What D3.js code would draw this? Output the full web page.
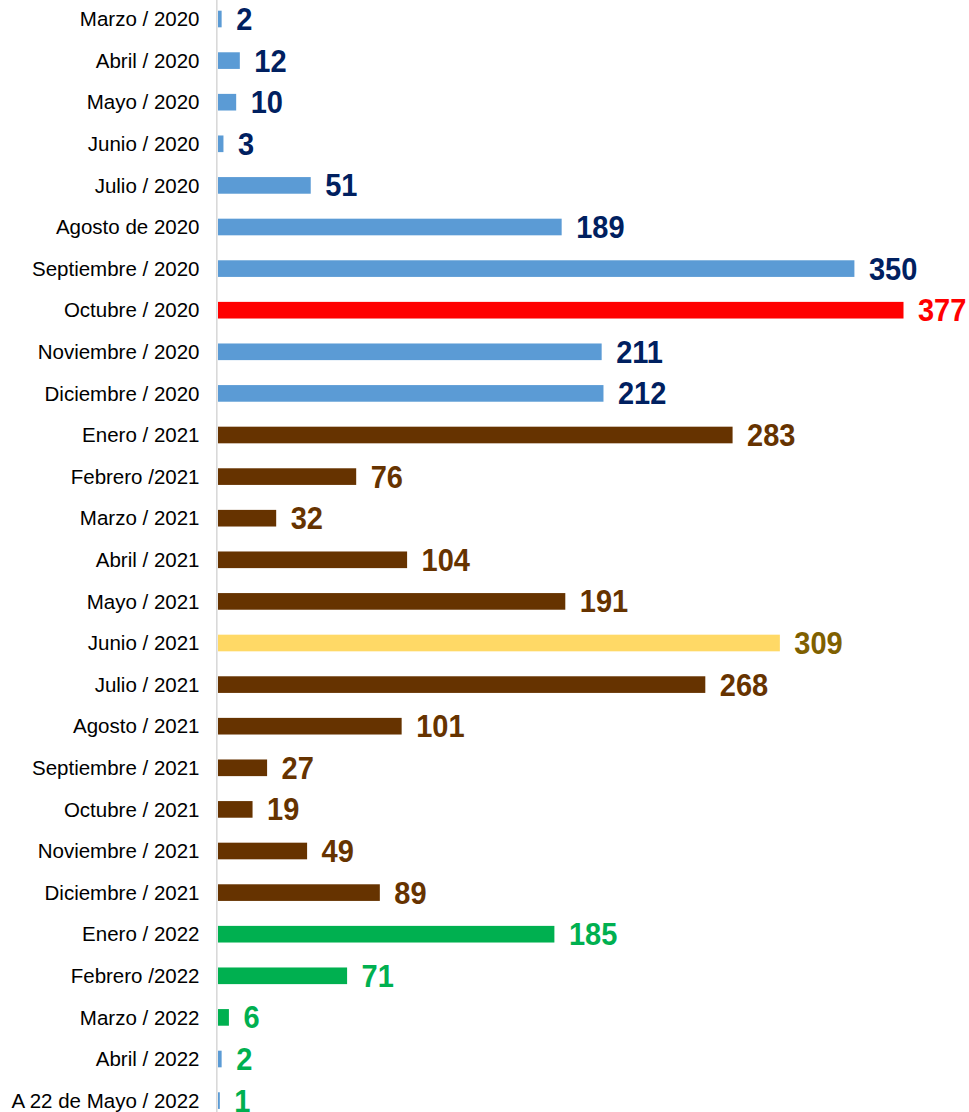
<!DOCTYPE html>
<html><head><meta charset="utf-8">
<script src="https://cdn.jsdelivr.net/npm/d3@7"></script>
<style>html,body{margin:0;padding:0;background:#fff;}</style>
</head><body>
<svg id="c" width="969" height="1112"></svg>
<script>
const categories = ["Marzo / 2020","Abril / 2020","Mayo / 2020","Junio / 2020","Julio / 2020","Agosto de 2020","Septiembre / 2020","Octubre / 2020","Noviembre / 2020","Diciembre / 2020","Enero / 2021","Febrero /2021","Marzo / 2021","Abril / 2021","Mayo / 2021","Junio / 2021","Julio / 2021","Agosto / 2021","Septiembre / 2021","Octubre / 2021","Noviembre / 2021","Diciembre / 2021","Enero / 2022","Febrero /2022","Marzo / 2022","Abril / 2022","A 22 de Mayo / 2022"];
const values = [2,12,10,3,51,189,350,377,211,212,283,76,32,104,191,309,268,101,27,19,49,89,185,71,6,2,1];
const groups = ["2020","2020","2020","2020","2020","2020","2020","peak","2020","2020","2021","2021","2021","2021","2021","jun21","2021","2021","2021","2021","2021","2021","2022","2022","2022","2022b","2022b"];

const groupKeys = ["2020","peak","2021","jun21","2022","2022b"];
const barColor = d3.scaleOrdinal().domain(groupKeys).range(["#5B9BD5","#FF0000","#663300","#FFD966","#00B050","#5B9BD5"]);
const textColor = d3.scaleOrdinal().domain(groupKeys).range(["#002060","#FF0000","#663300","#7F6000","#00B050","#00B050"]);

const data = categories.map((c,i)=>({c, v: values[i], g: groups[i]}));
const svg = d3.select("#c");

const x = d3.scaleLinear().domain([0, 377]).range([218, 903.5]);
const y = d3.scaleBand().domain(categories).range([-1.8, -1.8 + 27*41.6]).paddingInner(0.6).paddingOuter(0.3);

svg.selectAll("rect.bar").data(data).join("rect").attr("class","bar")
  .attr("x", x(0)).attr("y", d=>y(d.c))
  .attr("width", d=>x(d.v)-x(0)).attr("height", y.bandwidth())
  .attr("fill", d=>barColor(d.g));

svg.append("line").attr("x1",216.8).attr("x2",216.8).attr("y1",0).attr("y2",1112)
  .attr("stroke","#d9d9d9").attr("stroke-width",1.6);

const yAxis = d3.axisLeft(y).tickSize(0).tickPadding(0);
const ga = svg.append("g").attr("transform","translate(199.5,0)").call(yAxis);
ga.select(".domain").remove();
ga.selectAll("text").attr("font-family","Liberation Sans, Arial, sans-serif").attr("font-size","20.5px").attr("fill","#000").attr("dy","0.35em");

svg.selectAll("text.val").data(data).join("text").attr("class","val")
  .attr("transform", d=>`translate(${x(d.v)+14.5},${y(d.c)+y.bandwidth()/2}) scale(1,1.06)`)
  .attr("dy","0.36em")
  .attr("font-family","Liberation Sans, Arial, sans-serif").attr("font-weight","bold").attr("font-size","29px")
  .attr("fill", d=>textColor(d.g)).text(d=>d.v);
</script>
</body></html>
